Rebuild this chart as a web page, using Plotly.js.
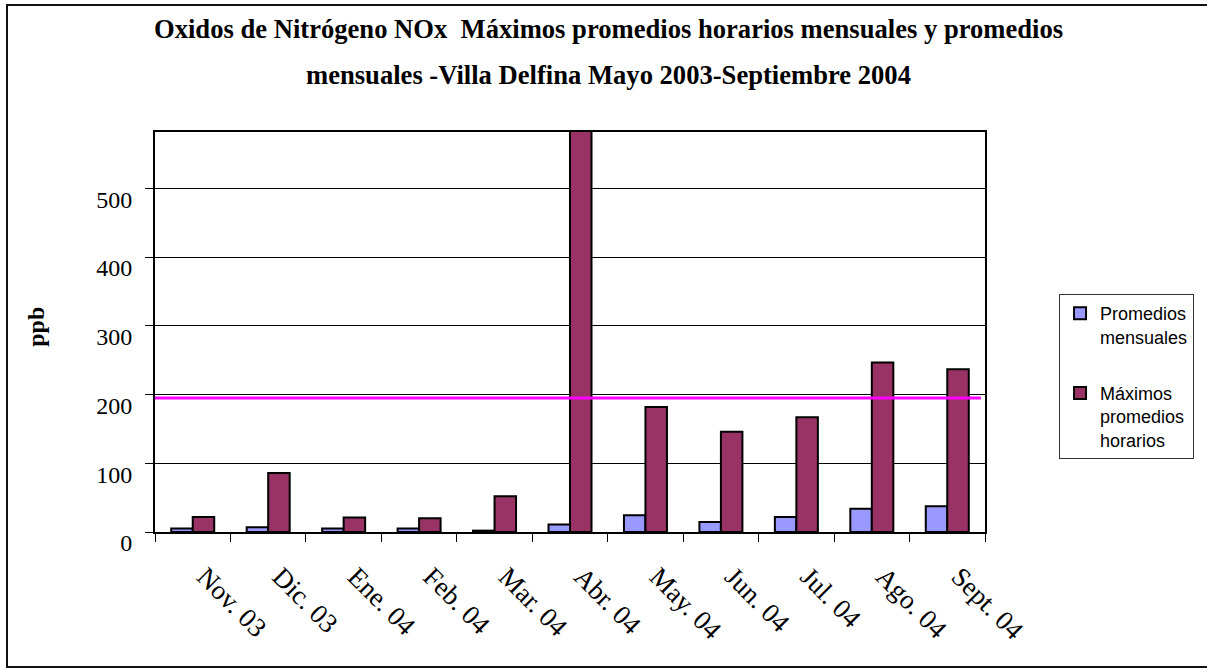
<!DOCTYPE html>
<html>
<head>
<meta charset="utf-8">
<script src="https://cdn.plot.ly/plotly-3.0.1.min.js"></script>
<style>
html,body{margin:0;padding:0;background:#fff;}
#wrap{position:relative;width:1207px;height:668px;overflow:hidden;}
#chart{width:1207px;height:668px;}
#frame{position:absolute;left:6px;top:4px;width:1220px;height:660px;border:2px solid #111;pointer-events:none;}
</style>
</head>
<body>
<div id="wrap"><div id="chart"></div><div id="frame"></div></div>
<script>
const months = ["Nov. 03","Dic. 03","Ene. 04","Feb. 04","Mar. 04","Abr. 04","May. 04","Jun. 04","Jul. 04","Ago. 04","Sept. 04"];
const promediosMensuales = [5, 7, 5, 5, 2, 11, 24.5, 14.6, 22, 34, 37.6];
const maximosHorarios = [22, 86, 21, 20, 52, 600, 182, 146, 167, 246.5, 236.7];
const limite = 195;
const yTicks = [0, 100, 200, 300, 400, 500];
const titleLines = ["Oxidos de Nitrógeno NOx  Máximos promedios horarios mensuales y promedios",
                    "mensuales -Villa Delfina Mayo 2003-Septiembre 2004"];

const serif = "Liberation Serif, Times New Roman, serif";
const sans = "Liberation Sans, Arial, sans-serif";

const traces = [
  {type:"bar", x:months, y:promediosMensuales, name:"Promedios<br>mensuales", legendgroup:"a",
   marker:{color:"#9999FF", line:{color:"#000", width:2}}, cliponaxis:true},
  {type:"bar", x:months, y:maximosHorarios, name:"Máximos<br>promedios<br>horarios", legendgroup:"b",
   marker:{color:"#993366", line:{color:"#000", width:2}}, cliponaxis:true}
];

const layout = {
  width:1207, height:668,
  margin:{l:155, r:222, t:132, b:136},
  paper_bgcolor:"#fff", plot_bgcolor:"#fff",
  barmode:"group", bargap:0.43, bargroupgap:0,
  showlegend:true,
  legend:{x:1.0892, y:0.595, xanchor:"left", yanchor:"top",
    bordercolor:"#333", borderwidth:1, bgcolor:"#fff", valign:"top",
    font:{family:sans, size:18, color:"#000"}, tracegroupgap:30, traceorder:"grouped"},
  xaxis:{type:"category", tickson:"boundaries", ticks:"outside", ticklen:8, tickwidth:1, tickcolor:"#000",
    showline:true, linecolor:"#000", linewidth:2, mirror:true, showgrid:false,
    tickangle:45, ticklabelstandoff:16, ticklabelshift:12,
    tickfont:{family:serif, size:27, color:"#000"}},
  yaxis:{range:[0,582], tickvals:yTicks, ticktext:yTicks.map(String), ticks:"outside", ticklen:8, tickwidth:1, tickcolor:"#000",
    showline:true, linecolor:"#000", linewidth:2, mirror:true,
    showgrid:true, gridcolor:"#000", gridwidth:1, zeroline:false,
    ticklabelstandoff:8, ticklabelshift:11,
    tickfont:{family:serif, size:24, color:"#000"}},
  shapes:[{type:"line", xref:"paper", yref:"y", x0:0, x1:0.995, y0:limite, y1:limite,
    line:{color:"#FF00FF", width:3}}],
  annotations:[
    {text:"<b>"+titleLines[0]+"</b>", xref:"paper", yref:"paper", x:0.5458, y:1.2575, xanchor:"center", yanchor:"middle",
     showarrow:false, font:{family:serif, size:26.6, color:"#000"}},
    {text:"<b>"+titleLines[1]+"</b>", xref:"paper", yref:"paper", x:0.5458, y:1.1425, xanchor:"center", yanchor:"middle",
     showarrow:false, font:{family:serif, size:26.6, color:"#000"}},
    {text:"<b>ppb</b>", xref:"paper", yref:"paper", x:-0.1436, y:0.5125, xanchor:"center", yanchor:"middle",
     textangle:-90, showarrow:false, font:{family:serif, size:24, color:"#000"}}
  ]
};

Plotly.newPlot("chart", traces, layout, {displayModeBar:false, staticPlot:true});
</script>
</body>
</html>
